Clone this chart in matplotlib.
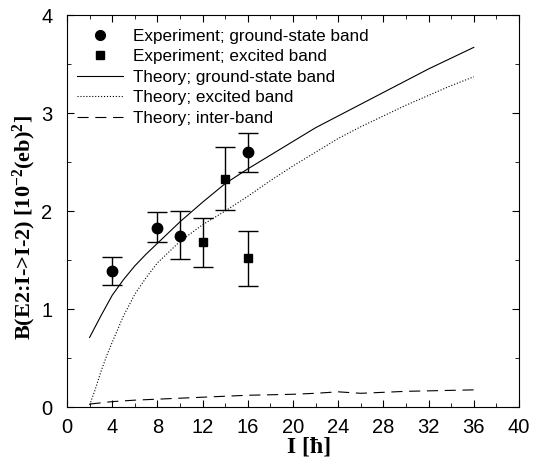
import matplotlib
matplotlib.use("Agg")
import matplotlib.pyplot as plt
from matplotlib.lines import Line2D
from matplotlib.legend_handler import HandlerLine2D
from matplotlib.ticker import MultipleLocator

plt.rcParams['font.family'] = ['Liberation Sans', 'DejaVu Sans']
plt.rcParams['mathtext.fontset'] = 'custom'
plt.rcParams['mathtext.rm'] = 'Liberation Serif:bold'
plt.rcParams['mathtext.it'] = 'Liberation Serif:bold'
plt.rcParams['mathtext.bf'] = 'Liberation Serif:bold'

# experiment, ground-state band
gs_I = [4, 8, 10, 16]
gs_B = [1.39, 1.83, 1.75, 2.60]
gs_lo = [1.25, 1.68, 1.51, 2.40]
gs_hi = [1.53, 1.99, 2.00, 2.80]

# experiment, excited band
ex_I = [12, 14, 16]
ex_B = [1.68, 2.33, 1.52]
ex_lo = [1.43, 2.01, 1.23]
ex_hi = [1.93, 2.65, 1.80]

# theory curves
th_gs_I = [2, 3, 4, 5, 6, 7, 8, 10, 12, 14, 16, 18, 20, 22, 24, 26, 28, 30, 32, 34, 36]
th_gs_B = [0.71, 0.93, 1.14, 1.30, 1.44, 1.56, 1.67, 1.89, 2.09, 2.28, 2.43, 2.57,
           2.71, 2.85, 2.97, 3.09, 3.21, 3.33, 3.45, 3.56, 3.67]
th_ex_I = [2, 2.5, 3, 3.5, 4, 5, 6, 7, 8, 10, 12, 14, 16, 18, 20, 22, 24, 26, 28, 30, 32, 34, 36]
th_ex_B = [0.02, 0.18, 0.36, 0.52, 0.66, 0.93, 1.15, 1.32, 1.47, 1.69, 1.86, 2.00,
           2.15, 2.31, 2.46, 2.60, 2.74, 2.86, 2.97, 3.08, 3.18, 3.28, 3.37]
th_ib_I = [2, 4, 6, 8, 10, 12, 14, 16, 18, 20, 22, 24, 26, 28, 30, 32, 34, 36]
th_ib_B = [0.03, 0.055, 0.07, 0.08, 0.09, 0.10, 0.11, 0.12, 0.125, 0.13, 0.14, 0.155,
           0.14, 0.15, 0.16, 0.165, 0.17, 0.175]


class MarkerAtEnd(HandlerLine2D):
    # put the legend marker right next to the text, like the original
    def get_xdata(self, legend, xdescent, ydescent, width, height, fontsize):
        xdata, _ = super().get_xdata(legend, xdescent, ydescent, width, height, fontsize)
        return xdata, [-xdescent + width + 0.2 * fontsize]


fig = plt.figure(figsize=(5.33, 4.65), dpi=100)
ax = fig.add_axes([0.1257, 0.1247, 0.848, 0.843])

gs_err = [[b - l for b, l in zip(gs_B, gs_lo)], [h - b for b, h in zip(gs_B, gs_hi)]]
ex_err = [[b - l for b, l in zip(ex_B, ex_lo)], [h - b for b, h in zip(ex_B, ex_hi)]]

ax.errorbar(gs_I, gs_B, yerr=gs_err, fmt='o', color='black', ms=7.5, capsize=7,
            elinewidth=1, capthick=1)
ax.errorbar(ex_I, ex_B, yerr=ex_err, fmt='s', color='black', ms=6, capsize=7,
            elinewidth=1, capthick=1)
l_gs, = ax.plot(th_gs_I, th_gs_B, '-', color='black', lw=0.8)
l_ex, = ax.plot(th_ex_I, th_ex_B, ':', color='black', lw=0.8)
l_ib, = ax.plot(th_ib_I, th_ib_B, '--', color='black', lw=0.8, dashes=(10, 6))

ax.set_xlim(0, 40)
ax.set_ylim(0, 4)
ax.xaxis.set_major_locator(MultipleLocator(4))
ax.xaxis.set_minor_locator(MultipleLocator(2))
ax.yaxis.set_major_locator(MultipleLocator(1))
ax.yaxis.set_minor_locator(MultipleLocator(0.5))
ax.tick_params(which='both', direction='in', top=True, right=True, labelsize=14.5)
ax.tick_params(which='major', length=5)
ax.tick_params(which='minor', length=3)
ax.tick_params(axis='y', which='major', pad=10.5)
ax.tick_params(axis='x', which='major', pad=8)

ax.set_xlabel('I [ħ]', family='Liberation Serif', fontweight='bold', fontsize=17)
ax.set_ylabel(r'B(E2:I->I-2) [10$^{-2}$(eb)$^{2}$]', family='Liberation Serif',
              fontweight='bold', fontsize=16)
ax.xaxis.set_label_coords(0.535, -0.075)
ax.yaxis.set_label_coords(-0.064, 0.457)

h_gs = Line2D([], [], ls='none', marker='o', color='black', ms=7)
h_ex = Line2D([], [], ls='none', marker='s', color='black', ms=6)
handles = [h_gs, h_ex, l_gs, l_ex, l_ib]
labels = ['Experiment; ground-state band', 'Experiment; excited band',
          'Theory; ground-state band', 'Theory; excited band', 'Theory; inter-band']
ax.legend(handles, labels, loc='upper left', bbox_to_anchor=(0.022, 0.965),
          frameon=False, fontsize=12.3, handlelength=2.7, handletextpad=0.6,
          labelspacing=0.32, borderpad=0, borderaxespad=0, numpoints=1,
          handler_map={h_gs: MarkerAtEnd(), h_ex: MarkerAtEnd()})

fig.savefig('out.png', dpi=100)
